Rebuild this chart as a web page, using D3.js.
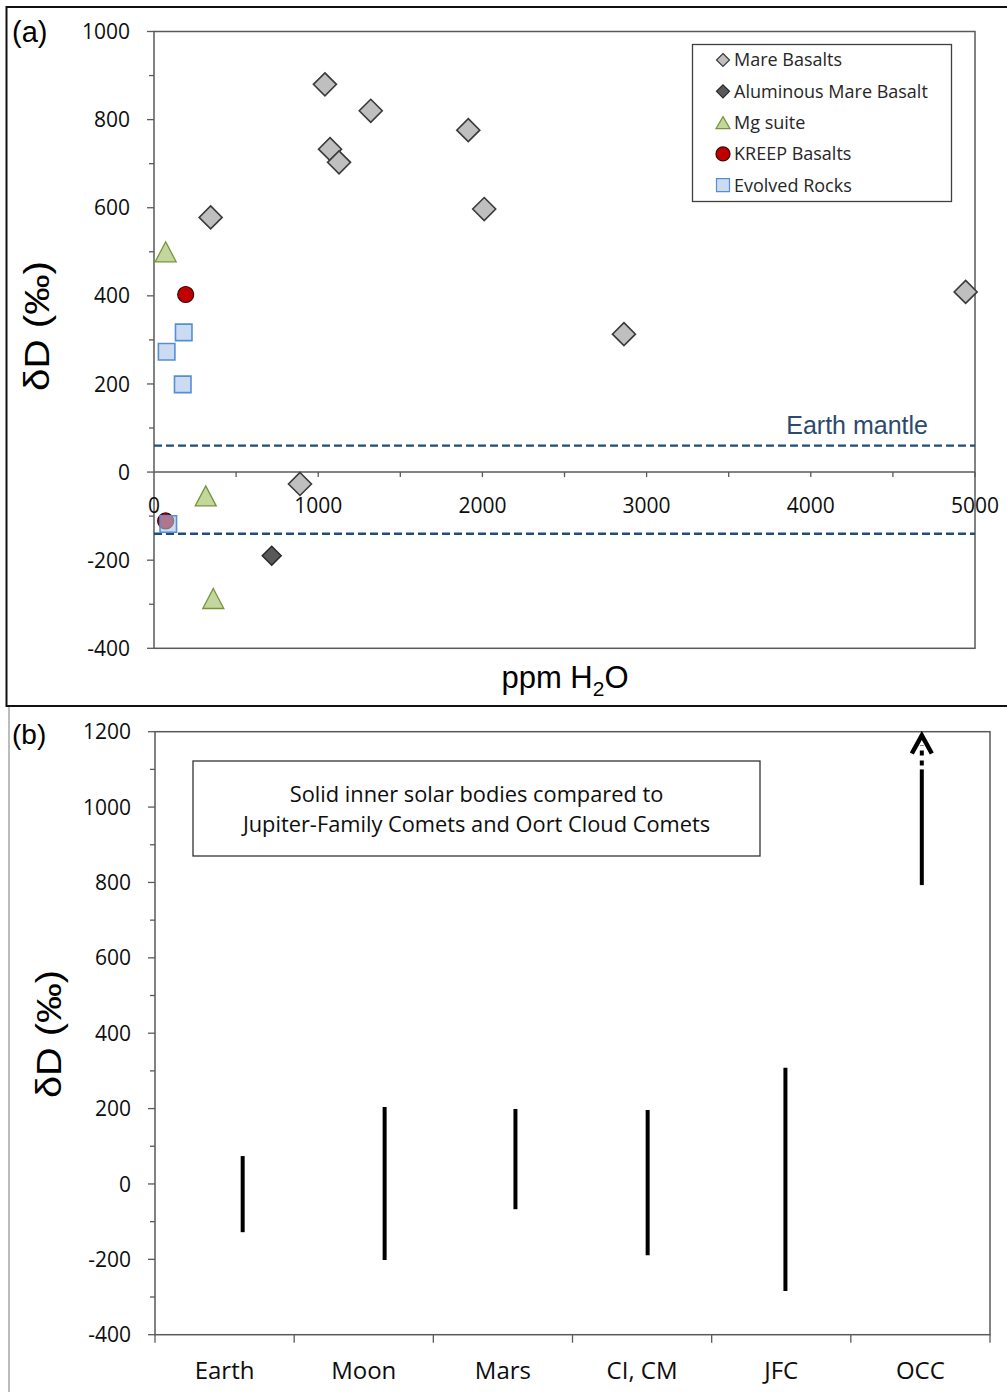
<!DOCTYPE html>
<html>
<head>
<meta charset="utf-8">
<script src="https://cdn.jsdelivr.net/npm/d3@7"></script>
<style>
  html, body { margin: 0; padding: 0; background: #fff; }
  svg { display: block; }
</style>
</head>
<body>
<div id="chart"></div>
<script>
// Panel (a): lunar samples, deltaD vs water content
var mareX = [1041, 1320, 1072, 1127, 1914, 2011, 345, 2862, 4943, 889];
var mareY = [880, 820, 733, 703, 776, 597, 578, 313, 409, -27];
var aluminousX = [717];
var aluminousY = [-190];
var mgX = [71, 315, 361];
var mgY = [500, -54, -287];
var kreepX = [193, 71];
var kreepY = [403, -111];
var evolvedX = [181, 77, 175, 87];
var evolvedY = [317, 273, 199, -118];
var mantleRange = [-140, 60];
var xTicksA = [0, 1000, 2000, 3000, 4000, 5000];
var yTicksA = [-400, -200, 0, 200, 400, 600, 800, 1000];
var legendNames = ["Mare Basalts", "Aluminous Mare Basalt", "Mg suite", "KREEP Basalts", "Evolved Rocks"];

// Panel (b): deltaD ranges of bodies
var bodies = ["Earth", "Moon", "Mars", "CI, CM", "JFC", "OCC"];
var bodyPos = [0.63, 1.65, 2.59, 3.54, 4.53, 5.51];
var bodyLow = [-128, -202, -67, -189, -284, 793];
var bodyHigh = [74, 204, 199, 196, 308, 1100];
var occDashTop = 1165;
var occArrowTip = 1190;
var yTicksB = [-400, -200, 0, 200, 400, 600, 800, 1000, 1200];

(function () {
  "use strict";

  var W = 1007, H = 1392;
  var numFont = "'Open Sans', 'Noto Sans', sans-serif";
  var arialFont = "'Liberation Sans', Arial, sans-serif";
  var axisColor = "#5a5a5a";
  var textColor = "#0d0d0d";
  var blue = "#1f4e79";

  var svg = d3.select("#chart").append("svg")
    .attr("width", W)
    .attr("height", H);

  // outer panel frames
  svg.append("rect")
    .attr("x", 9).attr("y", 706).attr("width", 1010).attr("height", 700)
    .attr("fill", "none").attr("stroke", "#a6a6a6").attr("stroke-width", 1.5);
  svg.append("rect")
    .attr("x", 6.5).attr("y", 7).attr("width", 1010).attr("height", 699)
    .attr("fill", "none").attr("stroke", "#111").attr("stroke-width", 2);

  // ---------- panel (a) ----------
  var ax = d3.scaleLinear().domain([0, 5000]).range([154, 975]);
  var ay = d3.scaleLinear().domain([-400, 1000]).range([648.3, 31.5]);
  var ga = svg.append("g");

  // plot frame
  ga.append("rect")
    .attr("x", ax(0)).attr("y", ay(1000))
    .attr("width", ax(5000) - ax(0)).attr("height", ay(-400) - ay(1000))
    .attr("fill", "none").attr("stroke", axisColor).attr("stroke-width", 1.5);

  // y axis: minor every 100, labels every 200
  var yMinorA = d3.range(-400, 1001, 100);
  ga.selectAll("line.ytick").data(yMinorA).join("line")
    .attr("x1", function (d) { return d % 200 === 0 ? ax(0) - 7 : ax(0) - 5; })
    .attr("x2", ax(0))
    .attr("y1", function (d) { return ay(d); })
    .attr("y2", function (d) { return ay(d); })
    .attr("stroke", axisColor).attr("stroke-width", 1.3);
  ga.selectAll("text.ylab").data(yTicksA).join("text")
    .attr("x", 130)
    .attr("y", function (d) { return ay(d); })
    .attr("dy", "0.36em")
    .attr("text-anchor", "end")
    .attr("font-family", numFont).attr("font-size", 21).attr("fill", textColor)
    .text(function (d) { return d; });

  // x axis crosses at 0
  ga.append("line")
    .attr("x1", ax(0)).attr("x2", ax(5000))
    .attr("y1", ay(0)).attr("y2", ay(0))
    .attr("stroke", axisColor).attr("stroke-width", 1.5);
  ga.selectAll("line.xtick").data(d3.range(500, 5001, 500)).join("line")
    .attr("x1", function (d) { return ax(d); })
    .attr("x2", function (d) { return ax(d); })
    .attr("y1", ay(0)).attr("y2", ay(0) + 5)
    .attr("stroke", axisColor).attr("stroke-width", 1.3);
  ga.selectAll("text.xlab").data(xTicksA).join("text")
    .attr("x", function (d) { return ax(d); })
    .attr("y", 513)
    .attr("text-anchor", "middle")
    .attr("font-family", numFont).attr("font-size", 21).attr("fill", textColor)
    .text(function (d) { return d; });

  // Earth mantle range
  ga.selectAll("line.mantle").data(mantleRange).join("line")
    .attr("x1", ax(0)).attr("x2", ax(5000))
    .attr("y1", function (d) { return ay(d); })
    .attr("y2", function (d) { return ay(d); })
    .attr("stroke", blue).attr("stroke-width", 2.3)
    .attr("stroke-dasharray", "8,4");
  ga.append("text")
    .attr("x", 928).attr("y", 434)
    .attr("text-anchor", "end")
    .attr("font-family", arialFont).attr("font-size", 25)
    .attr("fill", "#2c4a6e")
    .text("Earth mantle");

  // marker shapes
  function diamond(d) {
    var h = d / 2;
    return "M0," + (-h) + "L" + h + ",0L0," + h + "L" + (-h) + ",0Z";
  }
  function triangle(w, h) {
    return "M0," + (-h / 2) + "L" + (w / 2) + "," + (h / 2) + "L" + (-w / 2) + "," + (h / 2) + "Z";
  }
  function square(s) {
    var h = s / 2;
    return "M" + (-h) + "," + (-h) + "h" + s + "v" + s + "h" + (-s) + "Z";
  }

  var series = [
    { xs: mareX, ys: mareY, path: diamond(23), legPath: diamond(13), fill: "#bfbfbf", fo: 1, stroke: "#3a3a3a", sw: 1.6 },
    { xs: aluminousX, ys: aluminousY, path: diamond(19), legPath: diamond(13), fill: "#595959", fo: 1, stroke: "#262626", sw: 1.4 },
    { xs: mgX, ys: mgY, path: triangle(21, 20), legPath: triangle(14, 12), fill: "#c3d69b", fo: 1, stroke: "#77933c", sw: 1.3 },
    { xs: kreepX, ys: kreepY, circle: 8, legCircle: 7, fill: "#c00000", fo: 1, stroke: "#3a0000", sw: 1.2 },
    { xs: evolvedX, ys: evolvedY, path: square(16.5), legPath: square(13), fill: "#a9c4ea", fo: 0.6, stroke: "#558ed5", sw: 1.6 }
  ];

  series.forEach(function (s) {
    var pts = s.xs.map(function (x, i) { return [x, s.ys[i]]; });
    var sel = ga.append("g").selectAll("g").data(pts).join("g")
      .attr("transform", function (d) { return "translate(" + ax(d[0]) + "," + ay(d[1]) + ")"; });
    var mark = s.circle ? sel.append("circle").attr("r", s.circle) : sel.append("path").attr("d", s.path);
    mark.attr("fill", s.fill).attr("fill-opacity", s.fo)
      .attr("stroke", s.stroke).attr("stroke-width", s.sw);
  });

  // legend
  var leg = ga.append("g");
  leg.append("rect")
    .attr("x", 692.5).attr("y", 44.5).attr("width", 259).attr("height", 157)
    .attr("fill", "#fff").attr("stroke", "#404040").attr("stroke-width", 1.3);
  var legItem = leg.selectAll("g").data(series).join("g")
    .attr("transform", function (d, i) { return "translate(723," + (60 + i * 31.3) + ")"; });
  legItem.each(function (s) {
    var g = d3.select(this);
    var m = s.legCircle ? g.append("circle").attr("r", s.legCircle) : g.append("path").attr("d", s.legPath);
    m.attr("fill", s.fill).attr("fill-opacity", s.fo)
      .attr("stroke", s.stroke).attr("stroke-width", 1.2);
  });
  legItem.append("text")
    .attr("x", 11).attr("dy", "0.36em")
    .attr("font-family", numFont).attr("font-size", 18).attr("fill", "#262626")
    .text(function (d, i) { return legendNames[i]; });

  // titles
  svg.append("text")
    .attr("x", 12).attr("y", 42)
    .attr("font-family", arialFont).attr("font-size", 29).attr("fill", "#000")
    .text("(a)");
  svg.append("text")
    .attr("transform", "translate(49,326) rotate(-90)")
    .attr("text-anchor", "middle")
    .attr("font-family", arialFont).attr("font-size", 35).attr("fill", "#000")
    .attr("textLength", 130).attr("lengthAdjust", "spacingAndGlyphs")
    .text("\u03b4D (\u2030)");
  var xt = svg.append("text")
    .attr("x", 565).attr("y", 688)
    .attr("text-anchor", "middle")
    .attr("font-family", arialFont).attr("font-size", 31).attr("fill", "#000");
  xt.append("tspan").text("ppm H");
  xt.append("tspan").attr("font-size", 21).attr("dy", 8).text("2");
  xt.append("tspan").attr("dy", -8).text("O");

  // ---------- panel (b) ----------
  var bx = d3.scaleLinear().domain([0, 6]).range([155, 990]);
  var by = d3.scaleLinear().domain([-400, 1200]).range([1334.7, 731.7]);
  var gb = svg.append("g");

  gb.append("rect")
    .attr("x", bx(0)).attr("y", by(1200))
    .attr("width", bx(6) - bx(0)).attr("height", by(-400) - by(1200))
    .attr("fill", "none").attr("stroke", axisColor).attr("stroke-width", 1.5);

  gb.selectAll("line.ytick").data(d3.range(-400, 1201, 100)).join("line")
    .attr("x1", function (d) { return d % 200 === 0 ? bx(0) - 7 : bx(0) - 5; })
    .attr("x2", bx(0))
    .attr("y1", function (d) { return by(d); })
    .attr("y2", function (d) { return by(d); })
    .attr("stroke", axisColor).attr("stroke-width", 1.3);
  gb.selectAll("text.ylab").data(yTicksB).join("text")
    .attr("x", 131)
    .attr("y", function (d) { return by(d); })
    .attr("dy", "0.36em")
    .attr("text-anchor", "end")
    .attr("font-family", numFont).attr("font-size", 21).attr("fill", textColor)
    .text(function (d) { return d; });

  gb.selectAll("line.xtick").data(d3.range(0, 7)).join("line")
    .attr("x1", function (d) { return bx(d); })
    .attr("x2", function (d) { return bx(d); })
    .attr("y1", by(-400)).attr("y2", by(-400) + 8)
    .attr("stroke", axisColor).attr("stroke-width", 1.3);
  gb.selectAll("text.xlab").data(bodies).join("text")
    .attr("x", function (d, i) { return bx(i + 0.5); })
    .attr("y", 1379)
    .attr("text-anchor", "middle")
    .attr("font-family", numFont).attr("font-size", 24).attr("fill", textColor)
    .text(function (d) { return d; });

  // range bars
  gb.selectAll("line.range").data(bodies).join("line")
    .attr("x1", function (d, i) { return bx(bodyPos[i]); })
    .attr("x2", function (d, i) { return bx(bodyPos[i]); })
    .attr("y1", function (d, i) { return by(bodyLow[i]); })
    .attr("y2", function (d, i) { return by(bodyHigh[i]); })
    .attr("stroke", "#000").attr("stroke-width", 4);

  // OCC open-ended arrow
  var occX = bx(bodyPos[5]);
  gb.append("line")
    .attr("x1", occX).attr("x2", occX)
    .attr("y1", by(bodyHigh[5]) - 4).attr("y2", by(occDashTop))
    .attr("stroke", "#000").attr("stroke-width", 4)
    .attr("stroke-dasharray", "5,5");
  var tipY = by(occArrowTip);
  gb.append("path")
    .attr("d", "M" + (occX - 10) + "," + (tipY + 18) + "L" + occX + "," + tipY + "L" + (occX + 10) + "," + (tipY + 18))
    .attr("fill", "none").attr("stroke", "#000").attr("stroke-width", 4.5)
    .attr("stroke-linejoin", "miter");

  // note box
  gb.append("rect")
    .attr("x", 193).attr("y", 761).attr("width", 567).attr("height", 95)
    .attr("fill", "#fff").attr("stroke", "#333").attr("stroke-width", 1.3);
  gb.append("text")
    .attr("x", 476.5).attr("y", 802)
    .attr("text-anchor", "middle")
    .attr("font-family", numFont).attr("font-size", 21.8).attr("fill", textColor)
    .text("Solid inner solar bodies compared to");
  gb.append("text")
    .attr("x", 476.5).attr("y", 832)
    .attr("text-anchor", "middle")
    .attr("font-family", numFont).attr("font-size", 21.8).attr("fill", textColor)
    .text("Jupiter-Family Comets and Oort Cloud Comets");

  svg.append("text")
    .attr("x", 12).attr("y", 744)
    .attr("font-family", arialFont).attr("font-size", 28).attr("fill", "#000")
    .text("(b)");
  svg.append("text")
    .attr("transform", "translate(61,1034) rotate(-90)")
    .attr("text-anchor", "middle")
    .attr("font-family", arialFont).attr("font-size", 35).attr("fill", "#000")
    .attr("textLength", 128).attr("lengthAdjust", "spacingAndGlyphs")
    .text("\u03b4D (\u2030)");
})();
</script>
</body>
</html>
